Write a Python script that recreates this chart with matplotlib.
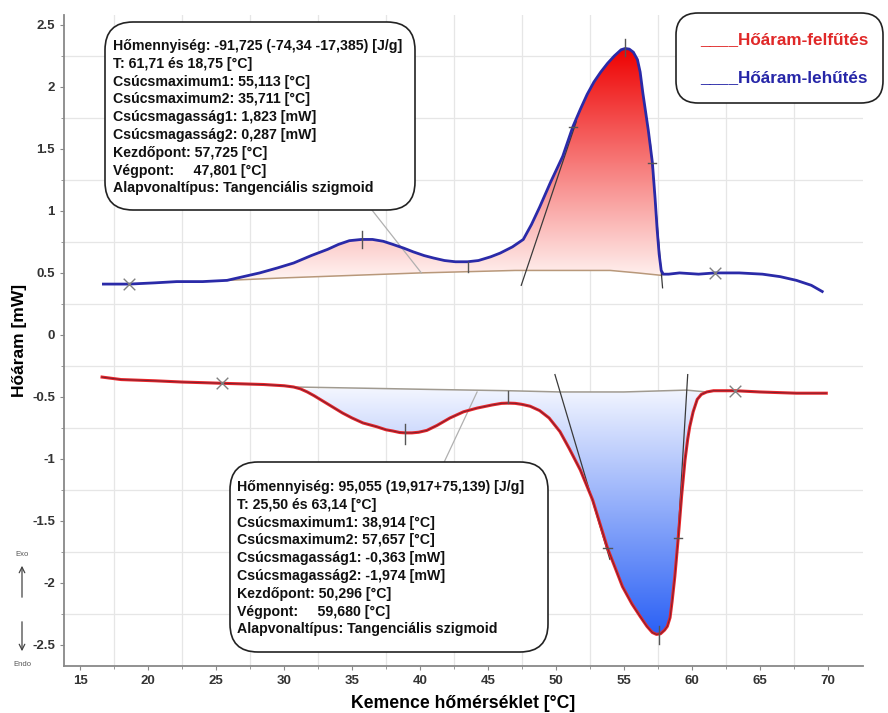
import numpy as np
import matplotlib
matplotlib.use("Agg")
import matplotlib.pyplot as plt
from matplotlib.colors import LinearSegmentedColormap
from matplotlib.patches import Polygon, FancyBboxPatch

plt.rcParams['font.family'] = ['Liberation Sans', 'DejaVu Sans']

# cooling curve (blue, upper)
cool_x = [16.7, 18.6, 20.5, 22.1, 24.0, 25.8, 27.0, 28.2, 29.5, 30.7, 32.0, 33.2, 34.0, 34.8,
          35.7, 36.5, 37.3, 38.0, 38.8, 39.5, 40.3, 41.0, 41.8, 42.6, 43.5, 44.3, 45.2, 45.9,
          46.8, 47.6, 48.2, 48.8, 49.6, 50.5, 51.25, 51.8, 52.3, 52.8, 53.3, 53.8, 54.3, 54.8,
          55.1, 55.4, 55.7, 56.0, 56.2, 56.4, 56.6, 56.8, 57.1, 57.3, 57.45, 57.6, 57.75, 57.9,
          58.3, 59.1, 60.5, 61.7, 63.5, 65.2, 66.5, 67.7, 68.8, 69.6]
cool_y = [0.41, 0.41, 0.42, 0.43, 0.43, 0.44, 0.47, 0.50, 0.54, 0.58, 0.64, 0.69, 0.73, 0.76,
          0.77, 0.77, 0.755, 0.73, 0.70, 0.67, 0.64, 0.62, 0.60, 0.59, 0.59, 0.60, 0.63, 0.66,
          0.71, 0.77, 0.89, 1.03, 1.23, 1.44, 1.68, 1.82, 1.94, 2.04, 2.12, 2.19, 2.25, 2.30,
          2.31, 2.305, 2.28, 2.22, 2.12, 1.95, 1.80, 1.65, 1.39, 1.10, 0.85, 0.65, 0.52, 0.49,
          0.49, 0.50, 0.49, 0.50, 0.50, 0.49, 0.47, 0.44, 0.40, 0.35]
cool_base_x = [25.8, 30.0, 35.0, 40.0, 43.5, 47.0, 50.0, 54.0, 56.0, 57.8]
cool_base_y = [0.44, 0.46, 0.48, 0.50, 0.51, 0.52, 0.52, 0.52, 0.50, 0.48]

# heating curve (red, lower)
heat_x = [16.6, 18.0, 20.5, 22.5, 24.0, 25.4, 27.0, 28.5, 30.0, 30.7, 31.2, 31.7, 32.2, 32.8,
          33.4, 34.3, 35.0, 35.8, 36.8, 37.5, 38.0, 38.5, 38.9, 39.4, 39.9, 40.5, 41.25, 42.2,
          43.2, 44.2, 45.3, 46.0, 46.5, 47.0, 47.5, 48.1, 48.8, 49.5, 50.3, 51.0, 51.8, 52.7,
          53.8, 54.9, 55.6, 56.2, 56.7, 57.1, 57.4, 57.7, 58.0, 58.2, 58.4, 58.55, 58.75, 59.0,
          59.25, 59.5, 59.7, 59.85, 60.1, 60.4, 60.7, 61.1, 61.6, 62.1, 63.2, 65.0, 67.7, 69.9]
heat_y = [-0.34, -0.36, -0.37, -0.38, -0.385, -0.39, -0.395, -0.40, -0.41, -0.42, -0.435, -0.46,
          -0.49, -0.53, -0.57, -0.63, -0.67, -0.71, -0.74, -0.765, -0.775, -0.787, -0.79, -0.79,
          -0.785, -0.77, -0.73, -0.67, -0.62, -0.59, -0.565, -0.552, -0.55, -0.552, -0.56, -0.575,
          -0.61, -0.67, -0.78, -0.92, -1.09, -1.33, -1.72, -2.03, -2.17, -2.27, -2.35, -2.40,
          -2.415, -2.41, -2.38, -2.35, -2.28, -2.15, -1.95, -1.64, -1.30, -1.01, -0.84, -0.74,
          -0.62, -0.52, -0.48, -0.46, -0.45, -0.45, -0.45, -0.46, -0.47, -0.47]
heat_base_x = [30.7, 36.0, 41.0, 46.5, 50.3, 55.0, 59.6, 61.1]
heat_base_y = [-0.42, -0.43, -0.44, -0.45, -0.46, -0.46, -0.445, -0.46]

# tangent lines, peak ticks, end markers
cool_tangents = [([47.45, 51.5], [0.40, 1.72]), ([57.85, 56.95], [0.38, 1.55])]
heat_tangents = [([49.93, 53.97], [-0.32, -1.81]), ([59.7, 58.97], [-0.32, -1.65])]
vticks = [(35.7, 0.70, 0.84), (43.5, 0.59, 0.51), (55.1, 2.25, 2.39),
          (38.9, -0.72, -0.88), (46.5, -0.45, -0.55), (57.6, -2.35, -2.49)]
hticks = [(51.25, 1.68), (57.1, 1.39), (53.8, -1.72), (59.0, -1.64)]
end_x = [18.6, 61.7, 25.4, 63.2]
end_y = [0.41, 0.50, -0.39, -0.45]
connectors = [([36.3, 40.1], [1.03, 0.50]), ([44.2, 41.8], [-0.46, -1.02])]

cool_text = ["Hőmennyiség: -91,725 (-74,34 -17,385) [J/g]",
             "T: 61,71 és 18,75 [°C]",
             "Csúcsmaximum1: 55,113 [°C]",
             "Csúcsmaximum2: 35,711 [°C]",
             "Csúcsmagasság1: 1,823 [mW]",
             "Csúcsmagasság2: 0,287 [mW]",
             "Kezdőpont: 57,725 [°C]",
             "Végpont:     47,801 [°C]",
             "Alapvonaltípus: Tangenciális szigmoid"]
heat_text = ["Hőmennyiség: 95,055 (19,917+75,139) [J/g]",
             "T: 25,50 és 63,14 [°C]",
             "Csúcsmaximum1: 38,914 [°C]",
             "Csúcsmaximum2: 57,657 [°C]",
             "Csúcsmagasság1: -0,363 [mW]",
             "Csúcsmagasság2: -1,974 [mW]",
             "Kezdőpont: 50,296 [°C]",
             "Végpont:     59,680 [°C]",
             "Alapvonaltípus: Tangenciális szigmoid"]

fig = plt.figure(figsize=(8.88, 7.13), dpi=100)
ax = fig.add_axes([64 / 888, 1 - 666 / 713, (863 - 64) / 888, (666 - 15) / 713])
ax.set_axisbelow(True)
XLIM = (13.8, 72.6)
YLIM = (-2.67, 2.58)


def gradient_fill(cx, cy, bx, by, c0, c1, y0, y1):
    xs = [x for x in cx if bx[0] <= x <= bx[-1]]
    ys = [y for x, y in zip(cx, cy) if bx[0] <= x <= bx[-1]]
    verts = list(zip(xs, ys)) + list(zip(bx[::-1], by[::-1]))
    poly = Polygon(verts, closed=True, facecolor='none', edgecolor='none')
    ax.add_patch(poly)
    cmap = LinearSegmentedColormap.from_list('g', [c0, c1])
    grad = np.linspace(0, 1, 256).reshape(-1, 1)
    im = ax.imshow(grad, extent=[bx[0], bx[-1], y0, y1], origin='lower', cmap=cmap,
                   aspect='auto', zorder=1, interpolation='bilinear')
    im.set_clip_path(poly)


gradient_fill(cool_x, cool_y, cool_base_x, cool_base_y, '#fff3f1', '#ee0000', 0.45, 2.32)
gradient_fill(heat_x, heat_y, heat_base_x, heat_base_y, '#2a60f5', '#f2f5ff', -2.42, -0.44)

ax.plot(cool_base_x, cool_base_y, color='#b8987a', lw=1.1, zorder=2)
ax.plot(heat_base_x, heat_base_y, color='#a09a90', lw=1.1, zorder=2)

for tx, ty in cool_tangents + heat_tangents:
    ax.plot(tx, ty, color='#3a3a3a', lw=0.9, zorder=3)
for cx_, cy_ in connectors:
    ax.plot(cx_, cy_, color='#b0b0b0', lw=0.9, zorder=2)

ax.plot(cool_x, cool_y, color='#2a2aa8', lw=2.0, zorder=4)
ax.plot(heat_x, heat_y, color='#e8262a', lw=2.2, zorder=4)
ax.plot(heat_x, heat_y, color='#7a2030', lw=0.7, zorder=5)

for x, ya, yb in vticks:
    ax.plot([x, x], [ya, yb], color='#555555', lw=1.0, zorder=6)
for x, y in hticks:
    ax.plot([x - 0.3, x + 0.3], [y, y], color='#555555', lw=1.0, zorder=6)
ax.scatter(end_x, end_y, marker='x', s=70, color='#808080', linewidths=1.0, zorder=6)

ax.set_xlim(*XLIM)
ax.set_ylim(*YLIM)
ax.set_xticks(np.arange(15, 71, 5))
ax.set_xticks(np.arange(17.5, 70, 5), minor=True)
ax.set_yticks(np.arange(-2.5, 2.51, 0.5))
ax.set_yticks(np.arange(-2.25, 2.3, 0.5), minor=True)
ax.set_yticklabels(['-2.5', '-2', '-1.5', '-1', '-0.5', '0', '0.5', '1', '1.5', '2', '2.5'])
ax.grid(which='minor', color='#e6e6e6', lw=0.9)
ax.grid(which='major', visible=False)
ax.tick_params(which='both', colors='#888888', labelcolor='#333333', labelsize=9.5, length=3)
ax.tick_params(which='minor', length=2)
for lab in ax.get_xticklabels() + ax.get_yticklabels():
    lab.set_fontweight('bold')
for s in ['top', 'right']:
    ax.spines[s].set_visible(False)
for s in ['left', 'bottom']:
    ax.spines[s].set_color('#888888')
    ax.spines[s].set_linewidth(1.3)

ax.set_xlabel('Kemence hőmérséklet [°C]', fontsize=12.7, fontweight='bold', labelpad=6)
ax.set_ylabel('Hőáram [mW]', fontsize=12.5, fontweight='bold', labelpad=4)

T = fig.dpi_scale_trans
H = 7.13


def info_box(px0, py0, px1, py1, lines, tx, ty0):
    box = FancyBboxPatch((px0 / 100, H - py1 / 100), (px1 - px0) / 100, (py1 - py0) / 100,
                         boxstyle='round,pad=0,rounding_size=0.28', transform=T,
                         facecolor='white', edgecolor='#222222', lw=1.2, zorder=10)
    fig.add_artist(box)
    for i, line in enumerate(lines):
        fig.text(tx / 100, H - (ty0 + i * 17.8) / 100, line, transform=T, fontsize=10.2,
                 fontweight='bold', va='center', ha='left', color='#111111', zorder=11)


info_box(105, 22, 415, 210, cool_text, 113, 46)
info_box(230, 462, 548, 652, heat_text, 237, 487)

# legend box
leg = FancyBboxPatch((676 / 100, H - 103 / 100), 207 / 100, 90 / 100,
                     boxstyle='round,pad=0,rounding_size=0.22', transform=T,
                     facecolor='white', edgecolor='#222222', lw=1.2, zorder=10)
fig.add_artist(leg)
fig.text(700 / 100, H - 40 / 100, '____Hőáram-felfűtés', transform=T, fontsize=12.3,
         fontweight='bold', color='#e02828', va='center', ha='left', zorder=11)
fig.text(700 / 100, H - 78 / 100, '____Hőáram-lehűtés', transform=T, fontsize=12.3,
         fontweight='bold', color='#2626a8', va='center', ha='left', zorder=11)

# Exo / Endo arrows
fig.text(22 / 100, H - 555 / 100, 'Exo', transform=T, fontsize=5.5, color='#555555',
         ha='center', va='center')
fig.text(22 / 100, H - 665 / 100, 'Endo', transform=T, fontsize=5.5, color='#555555',
         ha='center', va='center')
ax.annotate('', xy=(22 / 100, H - 563 / 100), xytext=(22 / 100, H - 600 / 100),
            xycoords=T, textcoords=T,
            arrowprops=dict(arrowstyle='->', color='#444444', lw=0.9))
ax.annotate('', xy=(22 / 100, H - 654 / 100), xytext=(22 / 100, H - 619 / 100),
            xycoords=T, textcoords=T,
            arrowprops=dict(arrowstyle='->', color='#444444', lw=0.9))

fig.savefig('out.png', dpi=100)
